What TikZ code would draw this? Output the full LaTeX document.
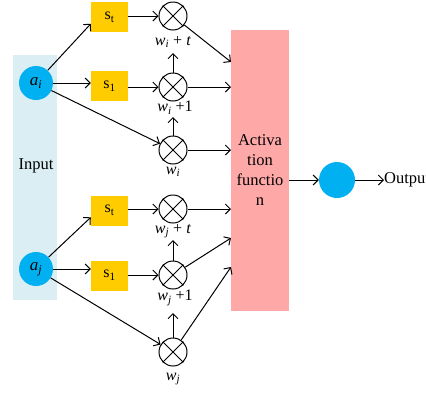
\documentclass[tikz,border=0pt]{standalone}
\usepackage{fontspec}
\setmainfont{Liberation Serif}
\usetikzlibrary{arrows.meta}
\definecolor{inbg}{RGB}{218,238,243}
\definecolor{actpink}{RGB}{255,168,168}
\definecolor{boxyellow}{RGB}{255,204,0}
\definecolor{blobblue}{RGB}{0,176,240}
\tikzset{
  blob/.style={circle, fill=blobblue, minimum size=34pt, inner sep=0pt, font=\fontsize{17}{19}\selectfont},
  sbox/.style={rectangle, fill=boxyellow, minimum width=37pt, minimum height=30pt, inner sep=0pt, font=\fontsize{16}{18}\selectfont},
  mul/.style={circle, draw, line width=1pt, minimum size=28pt, inner sep=0pt},
  wlab/.style={font=\fontsize{16}{18}\selectfont, inner sep=0pt},
  conn/.style={->, line width=1pt},
}
\newcommand{\crossin}[1]{\draw[line width=1pt] (#1.45) -- (#1.225) (#1.135) -- (#1.315);}
\begin{document}
\begin{tikzpicture}[x=1pt,y=-1pt, >={Straight Barb[length=5pt,width=10pt]}]
\useasboundingbox (0,0) rectangle (426,397);
% input band
\node[fill=inbg, minimum width=44pt, minimum height=245pt, inner sep=0pt] (inp) at (35,177.5) {};
\node[font=\fontsize{16.5}{18}\selectfont] (inlab) at (36,166) {Input};
% input neurons
\node[blob] (ai) at (36,83) {\textit{a}\textsubscript{\textit{i}}};
\node[blob] (aj) at (36,269) {\textit{a}\textsubscript{\textit{j}}};
% shift boxes
\node[sbox] (st1) at (109.5,17) {s\textsubscript{t}};
\node[sbox] (s11) at (109.5,86) {s\textsubscript{1}};
\node[sbox] (st2) at (109.5,210.5) {s\textsubscript{t}};
\node[sbox] (s12) at (109.5,275.5) {s\textsubscript{1}};
% multipliers
\node[mul] (m1) at (173,16) {};
\node[mul] (m2) at (173,87) {};
\node[mul] (m3) at (173,150) {};
\node[mul] (m4) at (173,209) {};
\node[mul] (m5) at (173,275) {};
\node[mul] (m6) at (173,352) {};
\crossin{m1}\crossin{m2}\crossin{m3}\crossin{m4}\crossin{m5}\crossin{m6}
% labels
\node[wlab] (l1) at (173,42) {\textit{w}\textsubscript{\textit{i}} + \textit{t}};
\node[wlab] (l2) at (175,108) {\textit{w}\textsubscript{\textit{i}} +1};
\node[wlab] (l3) at (173,172) {\textit{w}\textsubscript{\textit{i}}};
\node[wlab] (l4) at (173,231) {\textit{w}\textsubscript{\textit{j}} + \textit{t}};
\node[wlab] (l5) at (175,298) {\textit{w}\textsubscript{\textit{j}} +1};
\node[wlab] (l6) at (173,379) {\textit{w}\textsubscript{\textit{j}}};
% activation
\node[fill=actpink, minimum width=58pt, minimum height=281pt, inner sep=0pt, align=center, font=\fontsize{16.5}{20}\selectfont] (act) at (260,170.5) {Activa\\tion\\functio\\n};
\node[circle, fill=blobblue, minimum size=36pt, inner sep=0pt] (oc) at (337,180) {};
\node[anchor=west, inner sep=0pt, font=\fontsize{16.5}{18}\selectfont] (out) at (384,180) {Output};
% entry points on activation box
\coordinate (e1) at (231,62);
\coordinate (e2) at (231,87);
\coordinate (e3) at (231,150);
\coordinate (e4) at (231,209);
\coordinate (e5) at (231,238);
\coordinate (e6) at (231,267);
% label arrow ends
\coordinate (u1) at (173,53);
\coordinate (u2) at (173,117);
\coordinate (u3) at (173,240);
\coordinate (u4) at (173,313);
% connectors upper group
\draw[conn] (ai) -- (st1.200);
\draw[conn] (ai.east) -- (ai.east -| s11.west);
\draw[conn] (ai) -- (m3);
\draw[conn] (st1.east |- m1.west) -- (m1.west);
\draw[conn] (s11.east |- m2.west) -- (m2.west);
\draw[conn] (m2.north) -- (u1);
\draw[conn] (m3.north) -- (u2);
\draw[conn] (m1) -- (e1);
\draw[conn] (m2.east) -- (e2);
\draw[conn] (m3.east) -- (e3);
% lower group
\draw[conn] (aj) -- (st2.200);
\draw[conn] (aj.east) -- (aj.east -| s12.west);
\draw[conn] (aj) -- (m6);
\draw[conn] (st2.east |- m4.west) -- (m4.west);
\draw[conn] (s12.east |- m5.west) -- (m5.west);
\draw[conn] (m5.north) -- (u3);
\draw[conn] (m6.north) -- (u4);
\draw[conn] (m4.east) -- (e4);
\draw[conn] (m5) -- (e5);
\draw[conn] (m6) -- (e6);
% output
\draw[conn] (act.east |- oc.west) -- (oc.west);
\draw[conn] (oc.east) -- (out.west);
\end{tikzpicture}
\end{document}
